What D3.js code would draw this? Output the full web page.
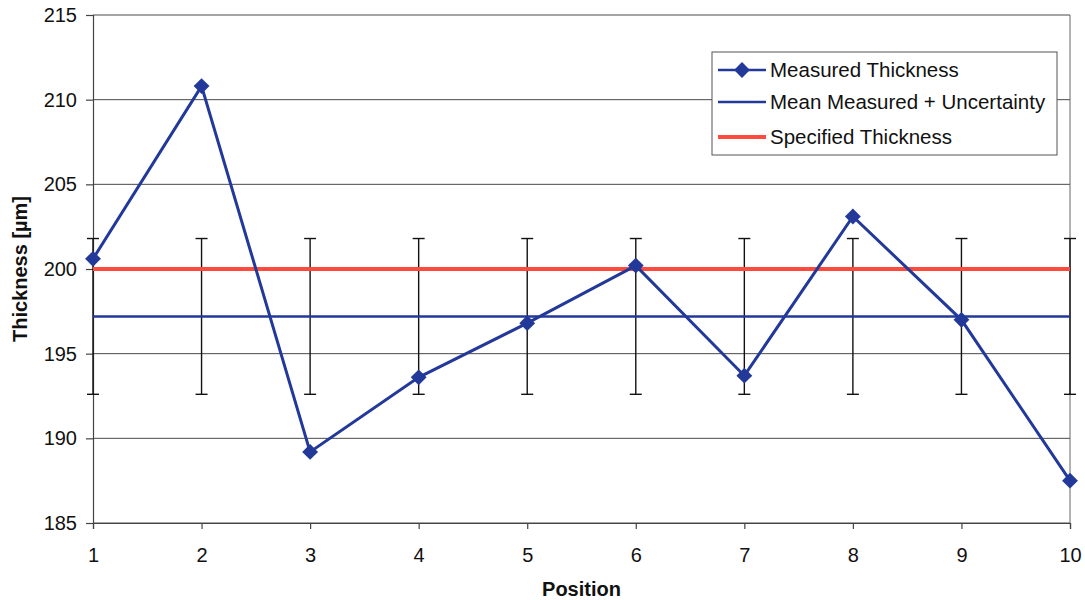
<!DOCTYPE html>
<html>
<head>
<meta charset="utf-8">
<script src="https://cdn.jsdelivr.net/npm/d3@7"></script>
<style>
  body { margin: 0; background: #fff; }
  svg text { font-family: "Liberation Sans", Arial, sans-serif; fill: #111; }
</style>
</head>
<body>
<div id="chart"></div>
<script>
const positions = [1, 2, 3, 4, 5, 6, 7, 8, 9, 10];
const measured = [200.6, 210.8, 189.2, 193.6, 196.8, 200.2, 193.7, 203.1, 197.0, 187.5];
const meanMeasured = [197.2, 197.2, 197.2, 197.2, 197.2, 197.2, 197.2, 197.2, 197.2, 197.2];
const uncertainty = [4.6, 4.6, 4.6, 4.6, 4.6, 4.6, 4.6, 4.6, 4.6, 4.6];
const specified = [200, 200, 200, 200, 200, 200, 200, 200, 200, 200];
const yTicks = [185, 190, 195, 200, 205, 210, 215];
const legendLabels = ["Measured Thickness", "Mean Measured + Uncertainty", "Specified Thickness"];

const width = 1085;
const height = 600;
const plotLeft = 93, plotRight = 1070, plotTop = 15, plotBottom = 523;

const navy = "#22399a";
const red = "#ff4b3e";

const svg = d3.select("#chart")
    .append("svg")
    .attr("width", width)
    .attr("height", height);

const x = d3.scaleLinear().domain([1, 10]).range([plotLeft, plotRight]);
const y = d3.scaleLinear().domain([185, 215]).range([plotBottom, plotTop]);

// grid lines
svg.append("g")
    .selectAll("line")
    .data(yTicks)
    .enter().append("line")
    .attr("x1", plotLeft)
    .attr("x2", plotRight)
    .attr("y1", d => y(d))
    .attr("y2", d => y(d))
    .attr("stroke", "#4a4a4a")
    .attr("stroke-width", 1);

// right border
svg.append("line")
    .attr("x1", plotRight).attr("x2", plotRight)
    .attr("y1", plotTop).attr("y2", plotBottom)
    .attr("stroke", "#666")
    .attr("stroke-width", 1);

// axes
const yAxis = svg.append("g")
    .attr("transform", "translate(" + plotLeft + ",0)")
    .call(d3.axisLeft(y).tickValues(yTicks).tickSize(7).tickPadding(9));

const xAxis = svg.append("g")
    .attr("transform", "translate(0," + plotBottom + ")")
    .call(d3.axisBottom(x).tickValues(positions).tickSize(6).tickPadding(19));

[yAxis, xAxis].forEach(g => {
    g.select(".domain").attr("stroke", "#444").attr("stroke-width", 1.2);
    g.selectAll(".tick line").attr("stroke", "#444").attr("stroke-width", 1.2);
    g.selectAll(".tick text")
        .style("font-size", "20px")
        .style("font-family", "Liberation Sans, Arial, sans-serif")
        .attr("fill", "#111");
});

// axis titles
svg.append("text")
    .attr("x", (plotLeft + plotRight) / 2)
    .attr("y", 596)
    .style("text-anchor", "middle")
    .style("font-size", "20px")
    .style("font-weight", "bold")
    .text("Position");

svg.append("text")
    .attr("transform", "translate(27," + ((plotTop + plotBottom) / 2) + ") rotate(-90)")
    .style("text-anchor", "middle")
    .style("font-size", "20px")
    .style("font-weight", "bold")
    .text("Thickness [µm]");

// error bars
const errData = positions.map((p, i) => ({ p: p, m: meanMeasured[i], u: uncertainty[i] }));
const err = svg.append("g").attr("stroke", "#111").attr("stroke-width", 1.4);
err.selectAll(".stem")
    .data(errData)
    .enter().append("line")
    .attr("x1", d => x(d.p)).attr("x2", d => x(d.p))
    .attr("y1", d => y(d.m + d.u)).attr("y2", d => y(d.m - d.u));
err.selectAll(".capTop")
    .data(errData)
    .enter().append("line")
    .attr("x1", d => x(d.p) - 6).attr("x2", d => x(d.p) + 6)
    .attr("y1", d => y(d.m + d.u)).attr("y2", d => y(d.m + d.u));
err.selectAll(".capBot")
    .data(errData)
    .enter().append("line")
    .attr("x1", d => x(d.p) - 6).attr("x2", d => x(d.p) + 6)
    .attr("y1", d => y(d.m - d.u)).attr("y2", d => y(d.m - d.u));

// mean line
const line = d3.line().x(d => x(d[0])).y(d => y(d[1]));
svg.append("path")
    .attr("d", line(positions.map((p, i) => [p, meanMeasured[i]])))
    .attr("fill", "none")
    .attr("stroke", navy)
    .attr("stroke-width", 2.5);

// specified line
svg.append("path")
    .attr("d", line(positions.map((p, i) => [p, specified[i]])))
    .attr("fill", "none")
    .attr("stroke", red)
    .attr("stroke-width", 4);

// measured thickness
svg.append("path")
    .attr("d", line(positions.map((p, i) => [p, measured[i]])))
    .attr("fill", "none")
    .attr("stroke", navy)
    .attr("stroke-width", 3);

const diamond = d3.symbol().type(d3.symbolDiamond2).size(160);
svg.selectAll(".marker")
    .data(positions)
    .enter().append("path")
    .attr("class", "marker")
    .attr("transform", (d, i) => "translate(" + x(d) + "," + y(measured[i]) + ")")
    .attr("d", diamond)
    .attr("fill", navy);

// legend
const legend = svg.append("g").attr("transform", "translate(712,52)");
legend.append("rect")
    .attr("width", 345)
    .attr("height", 103)
    .attr("fill", "#fff")
    .attr("stroke", "#555")
    .attr("stroke-width", 1);

const legendY = [18, 50, 85];
const legendColors = [navy, navy, red];
const legendWidths = [2.5, 2.5, 4];
legendLabels.forEach((label, i) => {
    legend.append("line")
        .attr("x1", 6).attr("x2", 54)
        .attr("y1", legendY[i]).attr("y2", legendY[i])
        .attr("stroke", legendColors[i])
        .attr("stroke-width", legendWidths[i]);
    if (i === 0) {
        legend.append("path")
            .attr("transform", "translate(30," + legendY[i] + ")")
            .attr("d", diamond)
            .attr("fill", navy);
    }
    legend.append("text")
        .attr("x", 58)
        .attr("y", legendY[i])
        .attr("dy", "0.35em")
        .style("font-size", "20.5px")
        .text(label);
});
</script>
</body>
</html>
